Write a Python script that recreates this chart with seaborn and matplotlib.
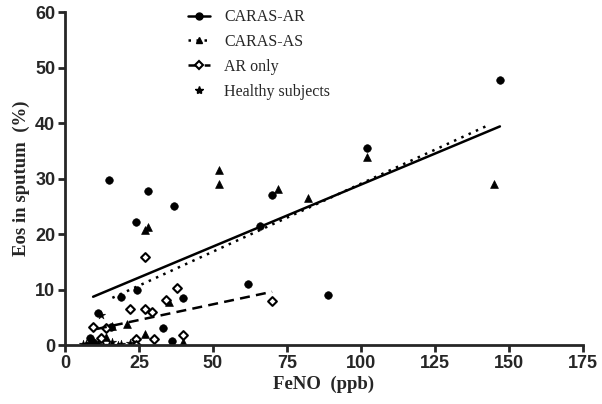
import pandas as pd
import matplotlib.pyplot as plt
import seaborn as sns
from matplotlib.lines import Line2D

# CARAS-AR (filled circles)
ar_x = [15, 28, 37, 24, 102, 147, 70, 66, 62, 89, 19, 24.5, 40, 11, 33, 36, 15.5, 8.5, 9.5]
ar_y = [29.8, 27.8, 25, 22.2, 35.5, 47.7, 27, 21.5, 11, 9, 8.7, 10, 8.5, 5.7, 3, 0.7, 3.3, 1.2, 0.6]

# CARAS-AS (filled triangles)
as_x = [52, 52, 72, 82, 102, 145, 28, 27, 35, 21, 14, 27, 40, 11, 16]
as_y = [31.5, 29, 28.2, 26.5, 33.8, 29, 21.2, 20.8, 7.8, 3.8, 1.5, 2, 0.6, 0.3, 3.5]

# AR only (open diamonds)
aro_x = [27, 38, 34, 22, 27, 29.5, 70, 9.5, 14, 40, 12, 24, 24, 30]
aro_y = [15.8, 10.2, 8.2, 6.5, 6.5, 6, 8, 3.2, 3, 1.8, 1.2, 1, 0, 1]

# Healthy subjects (stars)
hs_x = [12, 6, 7, 8, 10, 13, 15, 18, 19, 22, 16, 9]
hs_y = [5.5, 0.1, 0.2, 0.3, 0, 0, 0, 0, 0.1, 0.3, 0.5, 0.2]

# regression lines (start / end)
ar_fit_x, ar_fit_y = [9.5, 147], [8.7, 39.4]
as_fit_x, as_fit_y = [16, 143], [8.5, 39.6]
aro_fit_x, aro_fit_y = [10.8, 70], [2.9, 9.6]

x_ticks = [0, 25, 50, 75, 100, 125, 150, 175]
y_ticks = [0, 10, 20, 30, 40, 50, 60]

sns.set_style("ticks")
fig, ax = plt.subplots(figsize=(6.02, 4.04), dpi=100)
fig.subplots_adjust(left=0.108, right=0.968, top=0.97, bottom=0.146)

sns.lineplot(x=ar_fit_x, y=ar_fit_y, color="black", lw=1.8, ax=ax)
sns.lineplot(x=as_fit_x, y=as_fit_y, color="black", lw=1.8, ax=ax, linestyle=(0, (1, 2.2)))
sns.lineplot(x=aro_fit_x, y=aro_fit_y, color="black", lw=1.8, ax=ax, linestyle=(0, (4, 2.5)))

sns.scatterplot(x=ar_x, y=ar_y, marker="o", color="black", s=30, edgecolor="black", ax=ax)
sns.scatterplot(x=as_x, y=as_y, marker="^", color="black", s=32, edgecolor="black", ax=ax)
sns.scatterplot(x=aro_x, y=aro_y, marker="D", facecolor="white", s=20,
                edgecolor="black", linewidth=1.5, ax=ax)
sns.scatterplot(x=hs_x, y=hs_y, marker="*", color="black", s=40, edgecolor="black",
                linewidth=0.3, ax=ax)

ax.set_xlim(0, 175)
ax.set_ylim(0, 60)
ax.set_xticks(x_ticks)
ax.set_yticks(y_ticks)
sns.despine(ax=ax)
for s in ["left", "bottom"]:
    ax.spines[s].set_linewidth(2)
ax.tick_params(width=2, length=5, direction="out", labelsize=13, pad=2)
for lab in ax.get_xticklabels() + ax.get_yticklabels():
    lab.set_fontfamily("Liberation Sans")
    lab.set_fontweight("bold")

ax.set_xlabel("FeNO  (ppb)", fontfamily="Liberation Serif", fontweight="bold", fontsize=13.5,
              labelpad=3)
ax.set_ylabel("Eos in sputum  (%)", fontfamily="Liberation Serif", fontweight="bold",
              fontsize=13.5, labelpad=4)

handles = [
    Line2D([], [], color="black", lw=1.8, marker="o", markersize=5),
    Line2D([], [], color="black", lw=1.8, linestyle=(0, (1, 2.2)), marker="^", markersize=5),
    Line2D([], [], color="black", lw=1.8, linestyle=(0, (4, 2.5)), marker="D", markersize=4,
           markerfacecolor="white", markeredgewidth=1.5),
    Line2D([], [], color="black", lw=0, marker="*", markersize=6),
]
labels = ["CARAS-AR", "CARAS-AS", "AR only", "Healthy subjects"]
ax.legend(handles, labels, loc="upper left", bbox_to_anchor=(0.21, 1.052), frameon=False,
          prop={"family": "Liberation Serif", "size": 11.5}, labelspacing=0.55,
          handlelength=1.35, handletextpad=0.9)

plt.savefig("out.png", dpi=100)
plt.close()
